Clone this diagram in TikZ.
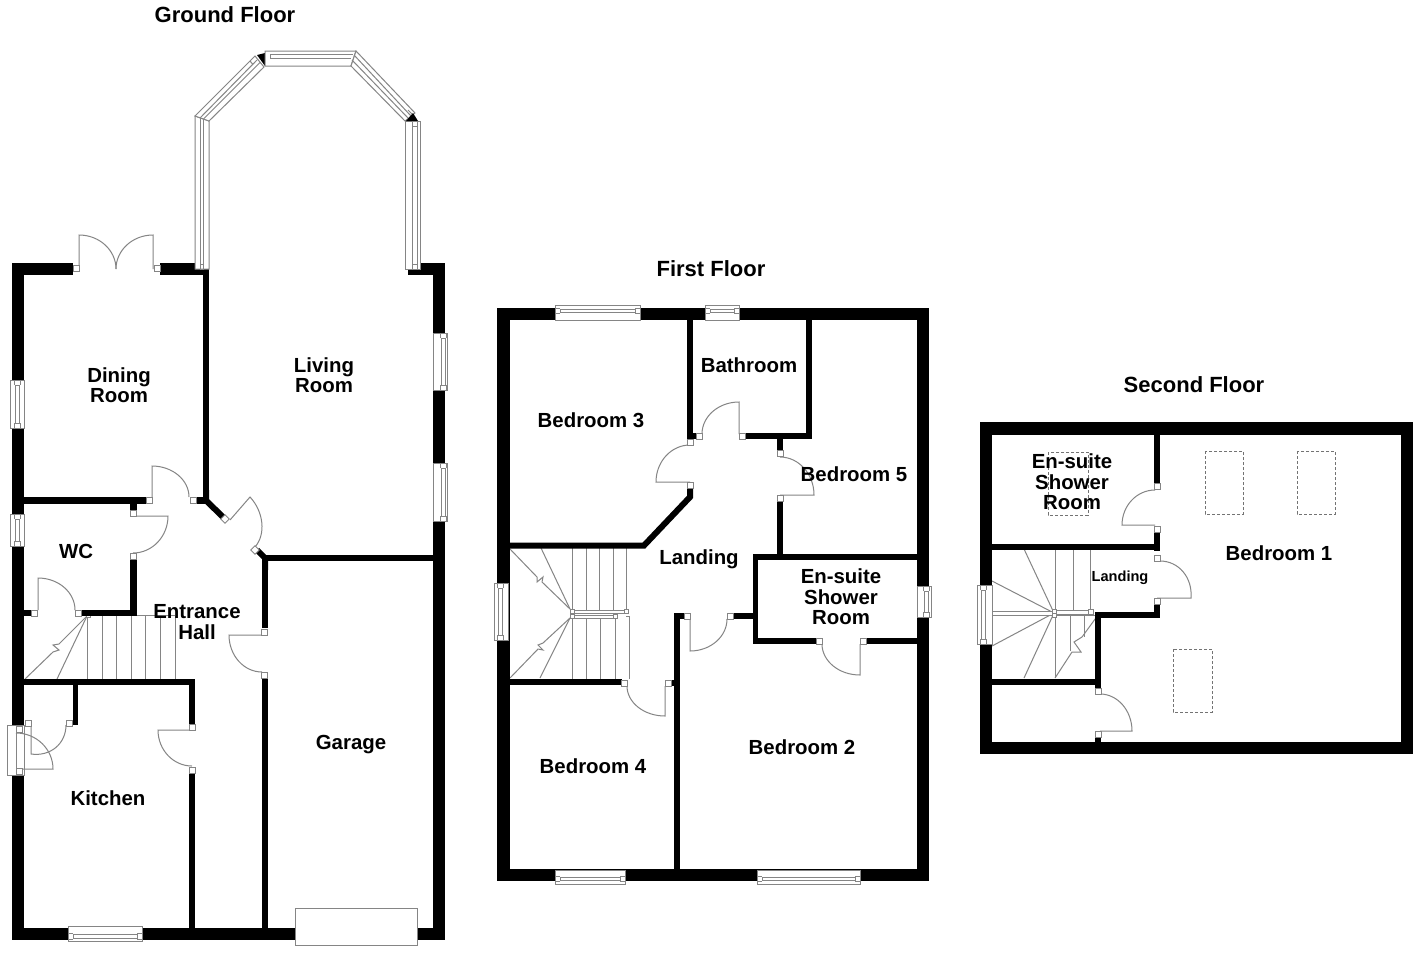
\documentclass[tikz,border=0pt]{standalone}
\usepackage{fontspec}
\setmainfont{Liberation Sans}
\usetikzlibrary{calc}
\tikzset{
  wallfill/.style={fill=black,draw=none},
  fine/.style={draw=black!48,line width=.5pt},
  jambst/.style={fill=white,draw=black!48,line width=.5pt},
  sky/.style={draw=black!55,line width=.5pt,dash pattern=on 1.5pt off 1pt},
  diagwall/.style={draw=black,line width=3pt,miter limit=10},
  title/.style={font=\bfseries\fontsize{11}{12}\selectfont,align=center},
  room/.style={font=\bfseries\fontsize{10.2}{10.25}\selectfont,align=center},
  smallroom/.style={font=\bfseries\fontsize{7.3}{8}\selectfont,align=center}
}
\newcommand\wall[2]{\fill[wallfill] (#1) rectangle (#2);}
\newcommand\jamb[1]{\draw[jambst] ($(#1)+(-3,-3)$) rectangle ($(#1)+(3,3)$);}
\newcommand\door[3]{\draw[fine] (#1) -- (#2) .. controls ($(#2)!.552!($(#2)+(#3)-(#1)$)$) and ($(#3)!.552!($(#2)+(#3)-(#1)$)$) .. (#3);}
% horizontal window: x1 y1 x2 y2 inner y a b
\newcommand\hwin[6]{\draw[jambst] (#1,#2) rectangle (#3,#4);
  \draw[fine] ({#1+5},#5) rectangle ({#3-5},#6);
  \draw[fine] (#1,{#5-1}) -- ({#1+5},{#5-1}) (#3,{#5-1}) -- ({#3-5},{#5-1}) (#1,{#6+1}) -- ({#1+5},{#6+1}) (#3,{#6+1}) -- ({#3-5},{#6+1});}
\newcommand\vwin[6]{\draw[jambst] (#1,#2) rectangle (#3,#4);
  \draw[fine] (#5,{#2+5}) rectangle (#6,{#4-5});
  \draw[fine] ({#5-1},#2) -- ({#5-1},{#2+5}) ({#5-1},#4) -- ({#5-1},{#4-5}) ({#6+1},#2) -- ({#6+1},{#2+5}) ({#6+1},#4) -- ({#6+1},{#4-5});}
\begin{document}
\begin{tikzpicture}[x=.5pt,y=-.5pt]
\useasboundingbox (0,0) rectangle (1416,953);
\fill[white] (0,0) rectangle (1416,953);

%%% GROUND FLOOR
% stairs
\foreach \x in {87.5,102,116.5,131,145.5,160,175} \draw[fine] (\x,616) -- (\x,679);
\draw[fine] (87,615) -- (175,615);
\draw[fine] (87,616) -- (59,644) -- (53,645) -- (59,650) -- (53,652) -- (25,679);
\draw[fine] (87,616) -- (57,679);
\draw[jambst] (86,613.5) rectangle (90,617.5);
% walls
\wall{12,263}{24,940}
\wall{12,263}{73,275}
\wall{160,263}{209,275}
\wall{203,263}{209,490}
\wall{408,263}{445,275}
\wall{433,263}{445,940}
\wall{12,928}{445,940}
\wall{24,497}{146,504}
\wall{196,497}{206,504}
\draw[diagwall] (206,490) -- (206,500.5) -- (223,517);
\wall{130,504}{137,510}
\wall{130,559}{137,616}
\wall{82,610}{137,616}
\wall{24,610}{31,616}
\wall{24,679}{195,685}
\wall{189,679}{195,724}
\wall{189,772}{195,928}
\wall{73,685}{78,725}
\wall{262,561}{268,628}
\wall{262,678}{268,928}
\wall{262,555}{433,561}
\draw[diagwall] (257,550) -- (265,558) -- (265,570);
% doors
\door{79,269}{79,235}{116,269}
\door{153,269}{153,235}{116,269}
\jamb{76,268}\jamb{157,268}
\door{152,497}{152,466}{189,497}
\jamb{149,500.5}\jamb{193,500.5}
\door{133,516}{168,516}{133,553}
\jamb{133.5,513}\jamb{133.5,556.5}
\door{38,610}{38,578}{75,610}
\jamb{34.5,613}\jamb{78.5,613}
\door{192,730}{158,730}{192,766}
\jamb{192,727}\jamb{192,770}
\door{31,720}{31,754}{66,725}
\jamb{28,723}\jamb{69.5,723}
\door{262,635}{229,635}{262,672}
\jamb{264.5,632}\jamb{264.5,675.5}
\door{230,520}{250,497}{255,547}
\draw[jambst,rotate around={45:(225,519)}] (222,516) rectangle (228,522);
\draw[jambst,rotate around={45:(255,550)}] (252,547) rectangle (258,553);
% external kitchen door
\draw[jambst] (7,725) rectangle (24,775);
\draw[fine] (16,725) -- (16,775);
\door{16,769}{53,769}{16,733}
\jamb{19,729}\jamb{19,771}
% windows
\vwin{10}{380}{24}{428}{15}{19}
\vwin{10}{514}{24}{546}{15}{19}
\vwin{433}{333}{447.5}{390}{441}{445}
\vwin{433}{463}{447.5}{521}{441}{445}
\hwin{68}{926}{142}{941.5}{934}{938}
\draw[jambst] (295.5,908) rectangle (417,945.5);
% bay window
\draw[jambst] (195,116) -- (209,121) -- (209,269) -- (195,269) -- cycle;
\draw[fine] (200,118) -- (200,269) (203.5,119) -- (203.5,269) (200,264) rectangle (203.5,269);
\draw[jambst] (405,121) rectangle (420,269);
\draw[fine] (412,121) -- (412,269) (417,121) -- (417,269) (412,121) rectangle (417,126) (412,264) rectangle (417,269);
\draw[jambst] (195,116) -- (255,56) -- (264,67) -- (209,121) -- cycle;
\draw[fine] (200,118) -- (257,60) (203.5,119) -- (260,62.5) (250,61) -- (253,64.5);
\fill[black] (257,55) -- (265,53) -- (265,66) -- cycle;
\draw[jambst] (265,51) -- (356,51) -- (351,66) -- (265,66) -- cycle;
\draw[fine] (270,54) -- (353,54) (270,58) -- (351,58) (270,54) -- (270,58);
\draw[jambst] (356,51) -- (415,113) -- (405,121) -- (351,66) -- cycle;
\draw[fine] (354,55) -- (411,116) (352,60) -- (408,118) (408,110) -- (412,114);
\fill[black] (406,121) -- (413,113) -- (418,121) -- cycle;
\draw[jambst] (412,121) rectangle (417,126);

%%% FIRST FLOOR
% stairs
\foreach \x in {572,586,599,613,626} \draw[fine] (\x,548) -- (\x,611);
\foreach \x in {572,586,600,615,629} \draw[fine] (\x,616) -- (\x,679);
\draw[fine] (626,616) -- (629,616);
\draw[fine] (510,549) -- (537,577) -- (537,582) -- (543,577) -- (542,582) -- (570,609);
\draw[fine] (541,548) -- (570,609);
\draw[fine] (510,678) -- (538,649) -- (543,650) -- (538,645) -- (543,643) -- (570,618);
\draw[fine] (540,678) -- (570,618);
\draw[jambst] (572,610) rectangle (626,613);
\draw[jambst] (572,615) rectangle (615,618);
\draw[jambst] (624,609.5) rectangle (628.5,613.5);
\draw[jambst] (613,614) rectangle (617.5,618.5);
\draw[jambst] (570,609) rectangle (574,613);
\draw[jambst] (570,614) rectangle (574,618);
% walls
\wall{497,308}{929,320}
\wall{497,869}{929,881}
\wall{497,308}{510,881}
\wall{917,308}{929,881}
\wall{687,320}{693,439}
\wall{693,433}{696,439}
\wall{745,433}{812,439}
\wall{806,320}{812,439}
\wall{777,439}{783,450}
\wall{777,501}{783,555}
\draw[diagwall] (690,488) -- (690,497) -- (644,545.5) -- (510,545.5);
\wall{510,679}{622,685}
\wall{674,613}{680,870}
\wall{680,613}{684,619}
\wall{733,613}{758,619}
\wall{753,554}{758,644}
\wall{753,554}{917,560}
\wall{753,638}{817,644}
\wall{866,638}{917,644}
\wall{671,680}{674,686}
% doors
\door{739,434}{739,402}{702,434}
\jamb{699,436}\jamb{742,436}
\door{690,482}{656,482}{690,445}
\jamb{690,442}\jamb{690,485.5}
\door{780,495}{814,495}{780,457}
\jamb{780,453.5}\jamb{780,498}
\door{665,686}{665,716}{627,686}
\jamb{624.5,683}\jamb{668,683}
\door{690,619}{690,651}{727,619}
\jamb{687,616}\jamb{730,616}
\door{860,644}{860,675}{822,644}
\jamb{819.5,641}\jamb{863,641}
% windows
\hwin{555}{305}{640}{320}{309}{312}
\hwin{705}{305}{739}{320}{309}{312}
\hwin{555}{870}{625}{884}{877}{880.5}
\hwin{757}{870}{860}{884}{877}{880.5}
\vwin{494}{583}{508.5}{640}{498}{502}
\vwin{917}{586}{931.5}{617}{924}{928}

%%% SECOND FLOOR
% stairs
\foreach \x in {1055,1073,1090} \draw[fine] (\x,549) -- (\x,610);
\draw[fine] (1055,615) -- (1055,678);
\draw[fine] (1070,615) -- (1070,651) (1084,615) -- (1084,637);
\draw[fine] (1055,615) -- (1098,615);
\draw[fine] (1055,678) -- (1072,652) -- (1081,652) -- (1074,642) -- (1082,637) -- (1098,615);
\draw[fine] (1054,613) -- (1024,549) (1054,613) -- (992,581) (1054,613) -- (992,646) (1054,613) -- (1024,678);
\draw[jambst] (992,611) rectangle (1053,615);
\draw[jambst] (1055,610) rectangle (1090,614);
\draw[jambst] (1088,609.5) rectangle (1093,614);
\draw[jambst] (1052.5,609.5) rectangle (1056.5,613.5);
\draw[jambst] (1052.5,613.5) rectangle (1056.5,617.5);
% walls
\wall{980,422}{1413,435}
\wall{980,742}{1413,754}
\wall{980,422}{992,754}
\wall{1401,422}{1413,754}
\wall{1154,435}{1160,483}
\wall{1154,532}{1160,551}
\wall{992,544}{1160,550}
\wall{1154,604}{1160,618}
\wall{1097,612}{1160,618}
\wall{1095,612}{1101,688}
\wall{992,679}{1101,685}
\wall{1095,737}{1101,742}
% doors
\door{1155,525}{1122,525}{1155,490}
\jamb{1157,486.5}\jamb{1157,529}
\door{1157,598}{1191,598}{1160,561}
\jamb{1157,558}\jamb{1157,601.5}
\door{1100,731}{1132,731}{1100,694}
\jamb{1098,691}\jamb{1098,734}
% window
\vwin{977}{585}{992}{644}{981}{985}
% skylights
\draw[sky] (1205,451) rectangle (1243,514);
\draw[sky] (1297,451) rectangle (1335,514);
\draw[sky] (1173,649) rectangle (1212,712);
\draw[sky] (1048,452) rectangle (1088,515);

%%% TEXT
\node[title] (tg) at (225,15) {Ground Floor};
\node[title] (tf) at (711,269) {First Floor};
\node[title] (ts) at (1194,385) {Second Floor};
\node[room] (dining) at (119,385) {Dining\\Room};
\node[room] (living) at (324,375) {Living\\Room};
\node[room] (wc) at (76,551) {WC};
\node[room] (hall) at (197,622) {Entrance\\Hall};
\node[room] (kitchen) at (108,798) {Kitchen};
\node[room] (garage) at (351,745) {Garage};
\node[room] (bed3) at (591,420) {Bedroom 3};
\node[room] (bath) at (749,365) {Bathroom};
\node[room] (bed5) at (854,474) {Bedroom 5};
\node[room] (land1) at (699,559) {Landing};
\node[room] (ens1) at (841,597) {En-suite\\Shower\\Room};
\node[room] (bed4) at (593,766) {Bedroom 4};
\node[room] (bed2) at (802,747) {Bedroom 2};
\node[room] (ens2) at (1072,482) {En-suite\\Shower\\Room};
\node[smallroom] (land2) at (1120,578) {Landing};
\node[room] (bed1) at (1279,553) {Bedroom 1};
\end{tikzpicture}
\end{document}
